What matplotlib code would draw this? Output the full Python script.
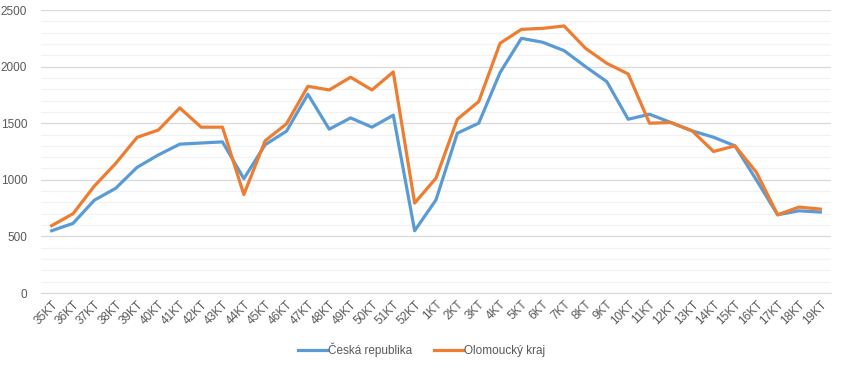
import matplotlib.pyplot as plt
from matplotlib.ticker import MultipleLocator

# kategorie (kalendářní týdny)
tydny = [f'{i}KT' for i in range(35, 53)] + [f'{i}KT' for i in range(1, 20)]

# Česká republika
cr = [550, 615, 820, 925, 1110, 1220, 1315, 1325, 1335, 1010, 1310, 1430,
      1756, 1447, 1547, 1465, 1571, 550, 823, 1412, 1500, 1947, 2250, 2215,
      2141, 2000, 1867, 1535, 1579, 1506, 1432, 1376, 1300, 1000, 691, 726, 715]

# Olomoucký kraj
olk = [595, 700, 945, 1145, 1375, 1440, 1635, 1465, 1465, 870, 1345, 1495,
       1826, 1794, 1906, 1794, 1953, 794, 1015, 1535, 1691, 2206, 2329, 2338,
       2359, 2162, 2029, 1935, 1500, 1506, 1432, 1250, 1300, 1068, 691, 759, 741]

plt.rcParams['font.family'] = ['Liberation Sans', 'DejaVu Sans']

fig = plt.figure(figsize=(8.43, 3.68), dpi=100)
ax = fig.add_axes([0.0486, 0.2038, 0.9372, 0.769])

x = range(len(tydny))
ax.plot(x, cr, color='#5B9BD5', lw=2.3, label='Česká republika', solid_joinstyle='round')
ax.plot(x, olk, color='#ED7D31', lw=2.3, label='Olomoucký kraj', solid_joinstyle='round')

ax.set_xlim(-0.5, len(tydny) - 0.5)
ax.set_ylim(0, 2500)
ax.yaxis.set_major_locator(MultipleLocator(500))
ax.yaxis.set_minor_locator(MultipleLocator(100))
ax.grid(which='major', axis='y', color='#D9D9D9', lw=0.9)
ax.grid(which='minor', axis='y', color='#F2F2F2', lw=0.9)
ax.set_axisbelow(True)

for s in ['top', 'right', 'left']:
    ax.spines[s].set_visible(False)
ax.spines['bottom'].set_color('#D9D9D9')

ax.set_xticks(list(x))
ax.set_xticklabels(tydny, rotation=45, ha='right', rotation_mode='anchor')
ax.tick_params(axis='both', which='both', length=0, labelsize=8.5, labelcolor='#595959')
ax.tick_params(axis='x', pad=4)
ax.tick_params(axis='y', pad=10)

fig.legend(loc='lower center', bbox_to_anchor=(0.5, 0.0), ncol=2, frameon=False,
           fontsize=8.5, labelcolor='#595959', handlelength=2.5, handletextpad=0.1,
           columnspacing=1.8)

fig.savefig('out.png', dpi=100)
